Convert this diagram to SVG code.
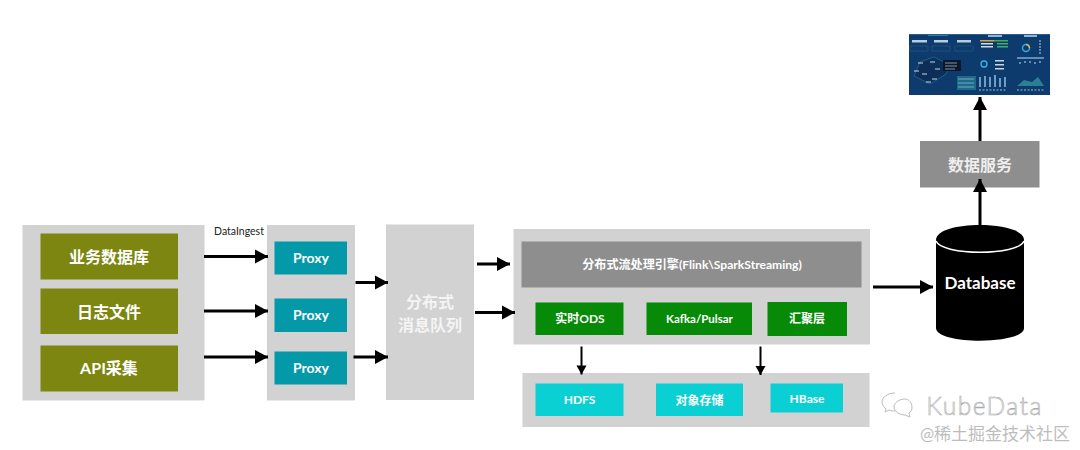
<svg xmlns="http://www.w3.org/2000/svg" width="1080" height="450" viewBox="0 0 1080 450">
<defs>
<marker id="ah" markerUnits="userSpaceOnUse" markerWidth="15" markerHeight="16" refX="14" refY="8" orient="auto"><path d="M1 1L14 8L1 15Z" fill="#000"/></marker>
<marker id="as" markerUnits="userSpaceOnUse" markerWidth="11" markerHeight="12" refX="10" refY="6" orient="auto"><path d="M1 1L10 6L1 11Z" fill="#000"/></marker>
<filter id="soft" x="-5%" y="-5%" width="110%" height="110%"><feGaussianBlur stdDeviation="0.4"/></filter>
</defs>
<style>
text{font-family:Lato,"Noto Sans CJK SC",sans-serif;font-weight:700;fill:#fff;text-anchor:middle;dominant-baseline:central}
.panel{fill:#d2d2d2}.olive{fill:#7c8611}.teal{fill:#0499a9}.green{fill:#078a07}.cyan{fill:#0bd0d3}.gray{fill:#8e8e8e}
.c{fill:none;stroke:#000;stroke-width:3;marker-end:url(#ah)}
.d{fill:none;stroke:#000;stroke-width:2;marker-end:url(#as)}
.lg{font-size:16px}.md{font-size:14px}.sm{font-size:12px}
</style>
<rect width="1080" height="450" fill="#fff"/>
<g id="sources"><rect class="panel" x="22.500" y="225" width="182" height="175.500"/>
<g id="db-src"><rect class="olive" x="40.500" y="233.500" width="137.500" height="46"/><text class="lg" x="109" y="256">业务数据库</text></g>
<g id="logs"><rect class="olive" x="40.500" y="288.500" width="137.500" height="45.500"/><text class="lg" x="109" y="311">日志文件</text></g>
<g id="api"><rect class="olive" x="40.500" y="345.500" width="137.500" height="46"/><text class="lg" x="109" y="367">API采集</text></g>
</g>
<g id="proxies"><rect class="panel" x="267" y="225" width="88" height="175.500"/>
<g id="proxy1"><rect class="teal" x="274.500" y="241.500" width="72.500" height="33"/><text class="md" x="311" y="257">Proxy</text></g>
<g id="proxy2"><rect class="teal" x="274.500" y="298.500" width="72.500" height="33.500"/><text class="md" x="311" y="314">Proxy</text></g>
<g id="proxy3"><rect class="teal" x="274.500" y="351.500" width="72.500" height="33"/><text class="md" x="311" y="367">Proxy</text></g>
</g>
<g id="queue"><rect class="panel" x="386" y="224.500" width="88" height="175.500"/><text class="lg" x="430" y="301" style="fill:#f4f4f4">分布式</text><text class="lg" x="430" y="324" style="fill:#f4f4f4">消息队列</text></g>
<g id="engine"><rect class="panel" x="513.500" y="229" width="356.500" height="115.500"/>
<g id="flink"><rect class="gray" x="521.500" y="241.500" width="340" height="46"/><text x="692" y="264" style="font-size:12.100px">分布式流处理引擎(Flink\SparkStreaming)</text></g>
<g id="ods"><rect class="green" x="535.500" y="302.500" width="88" height="32.500"/><text class="sm" x="580" y="318">实时ODS</text></g>
<g id="kafka"><rect class="green" x="646.500" y="302.500" width="105.500" height="32.500"/><text class="sm" x="699.500" y="318" style="font-size:11.500px">Kafka/Pulsar</text></g>
<g id="agg"><rect class="green" x="767.500" y="302" width="79.500" height="34"/><text class="sm" x="807" y="318">汇聚层</text></g>
</g>
<g id="storage"><rect class="panel" x="522.500" y="373" width="347" height="54"/>
<g id="hdfs"><rect class="cyan" x="535.500" y="383.500" width="88" height="32.500"/><text class="sm" x="579.500" y="399.500">HDFS</text></g>
<g id="oss"><rect class="cyan" x="656" y="383.500" width="87" height="32.500"/><text class="sm" x="699.500" y="400">对象存储</text></g>
<g id="hbase"><rect class="cyan" x="770.500" y="383.500" width="72.500" height="29"/><text class="sm" x="807" y="398">HBase</text></g>
</g>
<g id="service"><rect x="920" y="141" width="119.500" height="46.500" fill="#8e8e8e"/><text class="lg" x="980" y="164" style="fill:#eee">数据服务</text></g>
<g id="database"><path d="M936 240C936 220 1024 220 1024 240V328C1024 345 936 345 936 328Z" fill="#000"/><path d="M936 241C942 256 1018 256 1024 241" fill="none" stroke="#fff" stroke-width="1.500"/><text x="980" y="282" style="font-size:17px">Database</text></g>
<g id="dashboard" filter="url(#soft)">
<rect x="909" y="34" width="141" height="61" fill="#0e3b6d"/>
<rect x="928" y="34" width="20" height="2" fill="#2b7fa6"/><rect x="988" y="35" width="14" height="2" fill="#8fb4cc"/><rect x="1024" y="35" width="13" height="2" fill="#8fb4cc"/>
<rect x="909" y="34" width="141" height="1" fill="#2a5f8f"/>
<rect x="912" y="40" width="15" height="2.500" fill="#b8ccd9"/><rect x="934" y="40" width="14" height="2.500" fill="#b8ccd9"/><rect x="957" y="40" width="14" height="2.500" fill="#b8ccd9"/>
<rect x="910" y="46" width="18" height="5" fill="none" stroke="#2a6590" stroke-width=".5"/><rect x="932" y="46" width="18" height="5" fill="none" stroke="#2a6590" stroke-width=".5"/><rect x="955" y="46" width="18" height="5" fill="none" stroke="#2a6590" stroke-width=".5"/>
<rect x="980" y="40" width="14" height="1.500" fill="#d6a53a"/><rect x="994" y="40" width="14" height="1.500" fill="#3fae4e"/>
<rect x="981" y="43" width="12" height="1.500" fill="#d0dbe4"/><rect x="997" y="43" width="11" height="1.500" fill="#3fae6e"/><rect x="981" y="46" width="12" height="1.500" fill="#d0dbe4"/><rect x="997" y="46" width="11" height="1.500" fill="#3fae6e"/>
<circle cx="1026" cy="48" r="3.500" fill="none" stroke="#3aa6dc" stroke-width="1.500"/><path d="M1026 44.500a3.500 3.500 0 0 1 3.500 3.500" fill="none" stroke="#e6b13c" stroke-width="1.500"/>
<path d="M1039 41h2M1039 44h2M1039 47h2M1039 50h2M1039 53h2" stroke="#b8ccd9" stroke-width="1.200"/>
<circle cx="984" cy="64" r="3" fill="none" stroke="#38b4e0" stroke-width="1.300"/>
<path d="M920 62L934 57L950 65L946 74L930 84L914 76Z" fill="#0b2f58" stroke="#2e8aa8" stroke-width=".5"/>
<path d="M918 63h5M930 62h5M914 71h5M935 69h5M922 74h5M932 79h5M926 82h5" stroke="#c9d6e0" stroke-width="1.200"/>
<rect x="943" y="60" width="18" height="11" fill="#07182c"/>
<path d="M945 63h12M945 66h12M945 69h10" stroke="#b8ccd9" stroke-width=".7"/>
<rect x="995" y="60" width="9" height="1.500" fill="#c9d6e0"/><rect x="995" y="64" width="9" height="1.500" fill="#c9d6e0"/><rect x="995" y="68" width="9" height="1.500" fill="#c9d6e0"/>
<path d="M979 87V77h2v10zM984 87V76h2v11zM989 87V77h2v10zM994 87V75h2v12zM999 87V78h2v9zM1004 87V77h2v10z" fill="#6e9cc4"/>
<rect x="957" y="76" width="19" height="14" fill="#1f6a8c"/><path d="M958 79h16M958 83h16M958 87h16" stroke="#9fc0d0" stroke-width=".7"/>
<path d="M1017 58h27M1019 63h2M1024 62h2M1029 62h2M1034 63h2M1039 62h2" stroke="#7fa8c8" stroke-width="1.500"/>
<path d="M1017 86L1024 80L1032 82L1038 77L1044 86Z" fill="#2b7f93"/>
<path d="M979 90h27M1017 90h27" stroke="#9fb8cc" stroke-width="1.200" stroke-dasharray="2 1.500"/>
</g>
<g id="connectors">
<path class="c" d="M204 256.500H268"/><path class="c" d="M204 311H268"/><path class="c" d="M204 357H268"/>
<path class="c" d="M355.500 282.500H388"/><path class="c" d="M353.500 357H388"/>
<path class="c" d="M477 264H510"/><path class="c" d="M475 312.500H515"/>
<path class="d" d="M581.500 346.500V374.500"/><path class="d" d="M760.500 346.500V375"/>
<path class="c" d="M873 287H933"/><path class="c" d="M980 225V179"/><path class="c" d="M980 141V97"/>
</g>
<text x="239" y="231" style="font-size:10.500px;font-weight:400;fill:#222">DataIngest</text>
<g id="watermark">
<path d="M895 393c-7 0-13 4-13 9 0 3 2 5 4 7l-1 3 4-2c2 1 4 1 6 1" fill="#fff" stroke="#bbb" stroke-width="1"/>
<path d="M905 399c-6 0-11 4-11 8s5 8 11 8l5 2-1-4c2-1 3-3 3-6 0-4-3-8-7-8z" fill="#fff" stroke="#bbb" stroke-width="1"/>
<text x="984.500" y="405" style="font-size:24.500px;font-weight:300;letter-spacing:1.500px;fill:#fff;stroke:#aaa;stroke-width:.6">KubeData</text>
<text x="995" y="433" style="font-size:17px;font-weight:400;fill:#bdbdbd">@稀土掘金技术社区</text>
</g>
</svg>
